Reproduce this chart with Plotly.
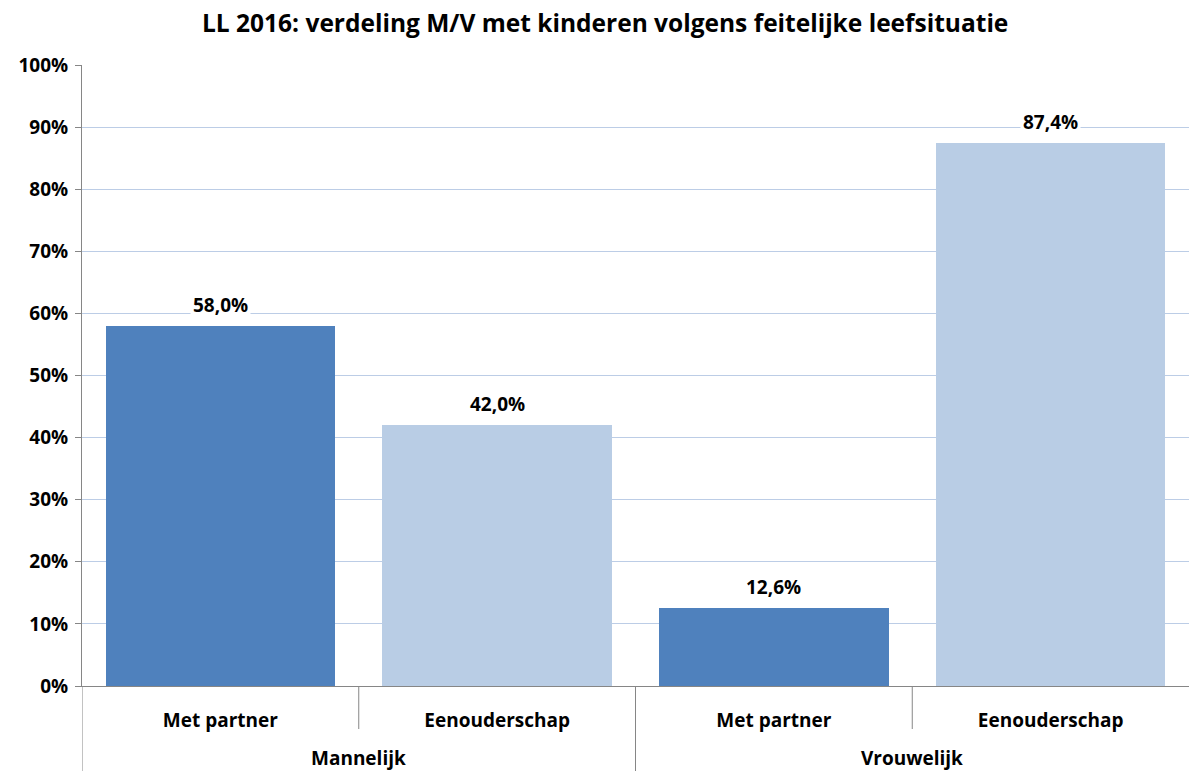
import plotly.graph_objects as go

groups = ["Mannelijk", "Mannelijk", "Vrouwelijk", "Vrouwelijk"]
categories = ["Met partner", "Eenouderschap", "Met partner", "Eenouderschap"]
values = [58.0, 42.0, 12.6, 87.4]
colors = ["#4F81BD", "#B9CDE5", "#4F81BD", "#B9CDE5"]
y_ticks = [0, 10, 20, 30, 40, 50, 60, 70, 80, 90, 100]
title = "LL 2016: verdeling M/V met kinderen volgens feitelijke leefsituatie"

FONT = "Open Sans"
LS = 19
xpos = list(range(len(values)))

fig = go.Figure()
fig.add_trace(go.Bar(x=xpos, y=values, marker=dict(color=colors, line=dict(width=0)),
                     width=0.83, hoverinfo="skip"))

for x, v in zip(xpos, values):
    fig.add_annotation(x=x, y=v, yref="y", xref="x",
                       text="<b>" + f"{v:.1f}".replace(".", ",") + "%</b>",
                       showarrow=False, yanchor="bottom", yshift=5, bgcolor="white",
                       borderpad=2, font=dict(family=FONT, size=LS, color="#000000"))

# group labels
seen = []
for i, g in enumerate(groups):
    if g in seen:
        continue
    seen.append(g)
    idx = [j for j, gg in enumerate(groups) if gg == g]
    cx = sum(idx) / len(idx)
    fig.add_annotation(x=cx, y=0, xref="x", yref="paper", yanchor="middle", yshift=-72,
                       text=f"<b>{g}</b>", showarrow=False,
                       font=dict(family=FONT, size=LS, color="#000000"))

# dividers
grey = "#868686"
PH = 621
for i in range(1, len(groups)):
    long = groups[i] != groups[i - 1]
    fig.add_shape(type="line", xref="x", yref="paper", x0=i - 0.5, x1=i - 0.5,
                  y0=0, y1=-(85 if long else 43) / PH, line=dict(color=grey, width=1))
fig.add_shape(type="line", xref="x", yref="paper", x0=-0.5, x1=-0.5,
              y0=0, y1=-85 / PH, line=dict(color=grey, width=1))

fig.update_layout(
    width=1189, height=771,
    margin=dict(l=82, r=0, t=65, b=85),
    plot_bgcolor="white", paper_bgcolor="white",
    showlegend=False, bargap=0,
    title=dict(text=f"<b>{title}</b>", x=0.509, xanchor="center", y=0.970, yanchor="middle",
               font=dict(family=FONT, size=24.5, color="#000000")),
    xaxis=dict(range=[-0.5, len(values) - 0.5], tickvals=xpos,
               ticktext=[f"<b>{c}</b>" for c in categories],
               showline=True, linecolor=grey, linewidth=1, ticks="", showgrid=False,
               zeroline=False, tickfont=dict(family=FONT, size=LS, color="#000000"),
               ticklabelstandoff=17),
    yaxis=dict(range=[0, 100], tickvals=y_ticks,
               ticktext=[f"<b>{t}%</b>" for t in y_ticks],
               showline=True, linecolor=grey, linewidth=1, ticks="outside", ticklen=6,
               tickcolor=grey, showgrid=True, gridcolor="#BCCDE6", gridwidth=1,
               zeroline=False, tickfont=dict(family=FONT, size=LS, color="#000000"),
               ticklabelstandoff=3),
)

fig.write_html("out.html", config={"displayModeBar": False},
               post_script="document.body.style.margin='0';document.body.style.overflow='hidden';")
